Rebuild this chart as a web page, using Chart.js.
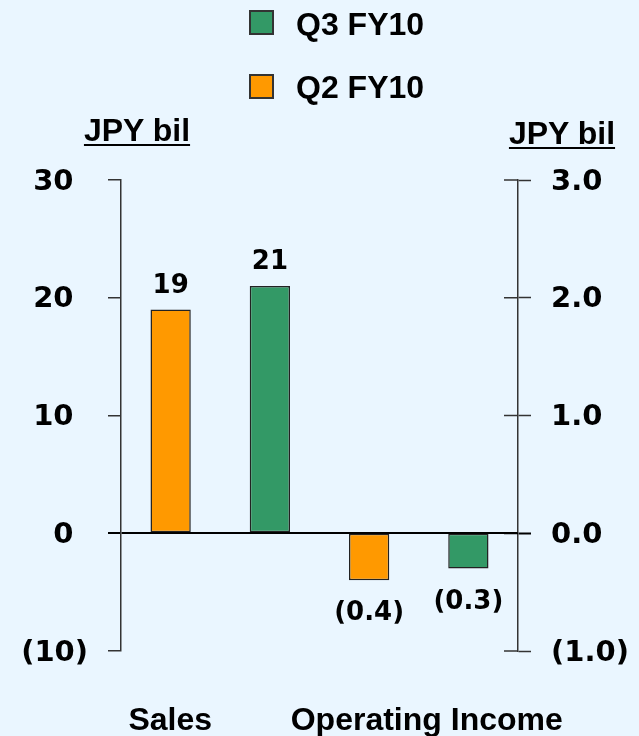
<!DOCTYPE html>
<html>
<head>
<meta charset="utf-8">
<script src="https://cdn.jsdelivr.net/npm/chart.js@4/dist/chart.umd.min.js"></script>
<style>
html,body{margin:0;padding:0;background:#EAF6FF;}
#wrap{position:relative;width:639px;height:736px;background:#EAF6FF;overflow:hidden;font-family:'Liberation Sans',Arial,sans-serif;font-weight:bold;color:#000;}
canvas{position:absolute;left:0;top:0;}
.leg-box{position:absolute;width:25px;height:25px;box-sizing:border-box;border:2px solid #333;}
.leg-txt{position:absolute;font-size:32px;line-height:32px;white-space:nowrap;}
.ttl{position:absolute;width:200px;text-align:center;font-size:32px;line-height:32px;white-space:nowrap;text-decoration:underline;text-decoration-thickness:2px;text-underline-offset:3px;}
</style>
</head>
<body>
<div id="wrap">
  <canvas id="c" width="639" height="736"></canvas>
  <div id="legend"></div>
  <div id="ttlLeft" class="ttl" style="left:37px;top:114px"></div>
  <div id="ttlRight" class="ttl" style="left:462px;top:117px"></div>
</div>
<script>
// ---- data ----
const categories = ['Sales', 'Operating Income'];
const seriesNames = ['Q2 FY10', 'Q3 FY10'];
const salesQ2 = [19, null];
const salesQ3 = [21, null];
const opIncomeQ2 = [null, -0.4];
const opIncomeQ3 = [null, -0.3];
const leftTicks = [-10, 0, 10, 20, 30];
const rightTicks = [-1, 0, 1, 2, 3];
const axisUnit = 'JPY bil';

// ---- styles ----
const seriesColors = { 'Q2 FY10': '#FF9900', 'Q3 FY10': '#339966' };
const catLabelShift = [-50, 8];
const numFont = '"DejaVu Sans", Verdana, sans-serif';
const txtFont = '"Liberation Sans", Arial, sans-serif';

function fmt(v, d) {
  return v < 0 ? '(' + Math.abs(v).toFixed(d) + ')' : v.toFixed(d);
}

// HTML legend (Q3 first, as in the reference)
const legendEl = document.getElementById('legend');
seriesNames.slice().reverse().forEach((name, i) => {
  const box = document.createElement('div');
  box.className = 'leg-box';
  box.style.left = '249px';
  box.style.top = (10 + i * 64) + 'px';
  box.style.background = seriesColors[name];
  legendEl.appendChild(box);
  const t = document.createElement('div');
  t.className = 'leg-txt';
  t.style.left = '296px';
  t.style.top = (8 + i * 63) + 'px';
  t.textContent = name;
  legendEl.appendChild(t);
});
document.getElementById('ttlLeft').textContent = axisUnit;
document.getElementById('ttlRight').textContent = axisUnit;

const barCommon = {
  borderColor: '#222',
  borderWidth: 1.5,
  borderSkipped: false,
  barPercentage: 0.406,
  categoryPercentage: 1,
  skipNull: true
};

const datasets = [
  Object.assign({ label: seriesNames[0], data: salesQ2, yAxisID: 'y', backgroundColor: seriesColors[seriesNames[0]] }, barCommon),
  Object.assign({ label: seriesNames[1], data: salesQ3, yAxisID: 'y', backgroundColor: seriesColors[seriesNames[1]] }, barCommon),
  Object.assign({ label: seriesNames[0], data: opIncomeQ2, yAxisID: 'y2', backgroundColor: seriesColors[seriesNames[0]] }, barCommon),
  Object.assign({ label: seriesNames[1], data: opIncomeQ3, yAxisID: 'y2', backgroundColor: seriesColors[seriesNames[1]] }, barCommon)
];

const isZero = c => c.tick && c.tick.value === 0;

const valueLabels = {
  id: 'valueLabels',
  afterDatasetsDraw(chart) {
    const ctx = chart.ctx;
    ctx.save();
    ctx.font = 'bold 26px ' + numFont;
    ctx.fillStyle = '#000';
    ctx.textAlign = 'center';
    ctx.textBaseline = 'alphabetic';
    chart.data.datasets.forEach((ds, i) => {
      const meta = chart.getDatasetMeta(i);
      meta.data.forEach((el, j) => {
        const v = ds.data[j];
        if (v === null || v === undefined) return;
        const txt = ds.yAxisID === 'y2' ? fmt(v, 1) : fmt(v, 0);
        const y = v >= 0 ? el.y - 17 : el.y + 40;
        ctx.fillText(txt, el.x, y);
      });
    });
    ctx.restore();
  }
};

const extras = {
  id: 'extras',
  afterDraw(chart) {
    const ctx = chart.ctx;
    const y2 = chart.scales.y2;
    const xs = chart.scales.x;
    ctx.save();
    // inner half of the right-axis ticks
    y2.ticks.forEach(t => {
      const py = y2.getPixelForValue(t.value);
      ctx.strokeStyle = t.value === 0 ? '#000' : '#333';
      ctx.lineWidth = t.value === 0 ? 2 : 1.5;
      ctx.beginPath();
      ctx.moveTo(y2.left - 14, py);
      ctx.lineTo(y2.left, py);
      ctx.stroke();
    });
    // category labels
    ctx.font = 'bold 32px ' + txtFont;
    ctx.fillStyle = '#000';
    ctx.textAlign = 'center';
    ctx.textBaseline = 'alphabetic';
    categories.forEach((c, i) => {
      ctx.fillText(c, xs.getPixelForValue(i) + catLabelShift[i], chart.chartArea.bottom + 79);
    });
    ctx.restore();
  }
};

new Chart(document.getElementById('c'), {
  type: 'bar',
  data: { labels: categories, datasets: datasets },
  options: {
    responsive: false,
    animation: false,
    layout: { padding: { top: 180, bottom: 85, left: 0, right: 0 } },
    plugins: { legend: { display: false }, tooltip: { enabled: false } },
    scales: {
      x: { display: false },
      y: {
        position: 'left',
        min: leftTicks[0],
        max: leftTicks[leftTicks.length - 1],
        afterBuildTicks: s => { s.ticks = leftTicks.map(v => ({ value: v })); },
        afterFit: s => { s.width = 121; },
        border: { display: true, color: '#333', width: 1.5 },
        grid: {
          drawOnChartArea: true,
          drawTicks: true,
          tickLength: 13,
          color: c => isZero(c) ? '#000' : 'rgba(0,0,0,0)',
          lineWidth: c => isZero(c) ? 2 : 1.5,
          tickColor: c => isZero(c) ? '#000' : '#333',
          tickWidth: c => isZero(c) ? 2 : 1.5
        },
        ticks: {
          padding: 20,
          labelOffset: 2,
          color: '#000',
          font: { family: numFont, weight: 'bold', size: 29 },
          callback: v => v < 0 ? fmt(v, 0) : fmt(v, 0) + '\u2002'
        }
      },
      y2: {
        position: 'right',
        min: rightTicks[0],
        max: rightTicks[rightTicks.length - 1],
        afterBuildTicks: s => { s.ticks = rightTicks.map(v => ({ value: v })); },
        afterFit: s => { s.width = 121; },
        border: { display: true, color: '#333', width: 1.5 },
        grid: {
          drawOnChartArea: false,
          drawTicks: true,
          tickLength: 13,
          tickColor: c => isZero(c) ? '#000' : '#333',
          tickWidth: c => isZero(c) ? 2 : 1.5
        },
        ticks: {
          padding: 20,
          labelOffset: 2,
          color: '#000',
          font: { family: numFont, weight: 'bold', size: 29 },
          callback: v => fmt(v, 1)
        }
      }
    }
  },
  plugins: [valueLabels, extras]
});
</script>
</body>
</html>
